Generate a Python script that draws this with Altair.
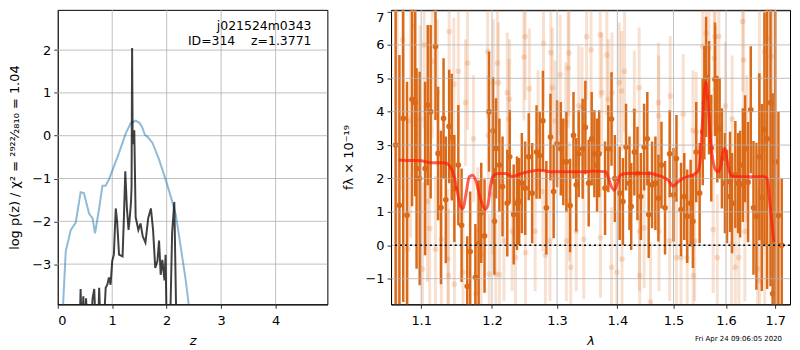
import altair as alt
import pandas as pd

# ---------------- left panel: redshift PDF ----------------
chi_z = [0.08, 0.10, 0.147, 0.24, 0.33, 0.42, 0.48, 0.575, 0.64, 0.685, 0.76, 0.82, 0.88,
         0.94, 1.03, 1.125, 1.25, 1.34, 1.43, 1.50, 1.55, 1.60, 1.645, 1.74, 1.86, 1.98,
         2.07, 2.17, 2.26, 2.35, 2.40, 2.45]
chi_val = [-4.6, -3.9, -2.7, -2.2, -2.03, -1.32, -1.34, -1.82, -1.93, -2.28, -1.7, -1.17, -1.17,
           -1.02, -0.72, -0.4, 0.06, 0.29, 0.35, 0.3, 0.2, 0.02, -0.02, -0.17, -0.56, -1.02,
           -1.4, -1.86, -2.62, -3.38, -3.9, -4.6]

pz_z = [0.40, 0.42, 0.44, 0.47, 0.49, 0.52, 0.55, 0.60, 0.64, 0.67, 0.70, 0.74, 0.76, 0.79,
        0.84, 0.88, 0.91, 0.94, 0.97, 1.00, 1.03, 1.065, 1.09, 1.125, 1.19, 1.215, 1.24,
        1.27, 1.30, 1.32, 1.345, 1.355, 1.365, 1.375, 1.38, 1.405, 1.43, 1.48, 1.52, 1.56,
        1.61, 1.66, 1.71, 1.75, 1.79, 1.83, 1.86, 1.89, 1.92, 1.96, 1.98, 2.00, 2.06, 2.10,
        2.14, 2.18, 2.22]
pz_logp = [-4.6, -3.58, -4.6, -3.75, -4.6, -3.8, -4.6, -4.6, -3.8, -3.58, -4.6, -4.6, -3.55, -4.6,
           -4.6, -3.55, -3.48, -3.31, -3.48, -2.93, -2.78, -1.7, -2.0, -2.78, -2.82, -1.9, -0.83,
           -1.7, -2.2, -1.95, -1.55, -1.2, 2.05, -0.02, -0.2, 0.13, -1.9, -2.2, -2.05, -2.35,
           -2.5, -1.93, -1.7, -2.2, -3.09, -2.93, -2.45, -3.25, -2.9, -3.38, -2.78, -4.6, -4.6, -2.26,
           -1.55, -4.6, -4.6]

pz_label1 = "j021524m0343"
pz_label2 = "ID=314\u00a0\u00a0\u00a0\u00a0z=1.3771"

# ---------------- right panel: spectrum ----------------
dark_wave = [1.066, 1.071, 1.076, 1.081, 1.0877, 1.092, 1.0938, 1.098, 1.1053, 1.1089, 1.1129,
             1.1195, 1.1231, 1.1271, 1.1307, 1.1338, 1.1385, 1.1421, 1.1458, 1.1514, 1.156,
             1.1641, 1.1683, 1.1758, 1.1805, 1.1843, 1.1891, 1.1957, 1.2015, 1.2036, 1.206,
             1.211, 1.2157, 1.2228, 1.2265, 1.2325, 1.2375, 1.2408, 1.2449, 1.25, 1.2555,
             1.2608, 1.2676, 1.2725, 1.2776, 1.283, 1.2895, 1.2945, 1.300, 1.306, 1.310, 1.315,
             1.321, 1.3265, 1.331, 1.335, 1.3415, 1.346, 1.3515, 1.3565, 1.361, 1.3655, 1.369,
             1.379, 1.3845, 1.390, 1.3957, 1.404, 1.4096, 1.415, 1.421, 1.424, 1.4295, 1.435,
             1.441, 1.4468, 1.4525, 1.455, 1.461, 1.467, 1.4725, 1.478, 1.4845, 1.493, 1.500,
             1.5055, 1.514, 1.520, 1.5255, 1.532, 1.5363, 1.5425, 1.549, 1.555, 1.558, 1.5613,
             1.567, 1.5713, 1.5785, 1.583, 1.5875, 1.592, 1.598, 1.602, 1.608, 1.612, 1.6185,
             1.624, 1.628, 1.6335, 1.638, 1.644, 1.6495, 1.655, 1.661, 1.667, 1.672, 1.6775,
             1.683, 1.690, 1.6945, 1.700, 1.7065, 1.7135]
dark_flux = [3.0, 1.2, 3.8, 0.9, 4.37, 4.27, 2.3, 2.0, 2.3, 4.2, 4.0,
             5.95, 2.75, 1.13, 3.8, 1.36, 3.56, 3.24, 1.7, 2.4, 0.6,
             -1.23, -0.19, -0.96, 0.05, 0.97, 0.28, 4.0, 3.43, 0.72, 2.9,
             2.4, 1.76, 1.26, 2.65, 0.92, 1.26, 1.31, 1.86, 1.71, 2.65,
             1.56, 2.79, 2.69, 3.73, 1.12, 3.24, 1.61, 3.04, 2.89, 2.5, 2.5,
             1.19, 3.29, 1.81, 2.74, 2.89, 3.53, 1.86, 3.19, 2.74, 2.4, 2.74,
             1.71, 2.89, 3.78, 2.0, 1.56, 1.31, 2.94, 1.86, 1.16, 2.79, 2.15,
             1.46, 2.94, 3.19, 0.92, 1.81, 1.86, 1.41, 2.4, 1.12, 2.74, 1.51,
             2.6, 1.07, 1.46, 0.87, 1.26, 0.72, 2.79, 1.56, 3.4, 4.27, 5.04,
             4.42, 2.91, 4.97, 3.48, 3.5, 2.6, 1.86, 1.46, 1.9, 1.26, 2.12,
             1.86, 1.83, 2.4, 2.89, 1.89, 4.06, 1.12, 0.87, 2.65, 1.43, 3.47,
             3.19, 4.27, -1.45, 2.5, 0.89, 0.0]
dark_err = [5.0, 4.5, 5.5, 4.0, 3.2, 2.8, 3.0, 3.2, 2.6, 2.4, 2.6,
            2.2, 2.0, 2.3, 1.8, 1.9, 1.7, 1.9, 1.6, 1.8, 1.7,
            1.5, 1.8, 1.6, 1.9, 1.5, 1.7, 1.8, 1.6, 1.6, 1.5,
            1.4, 1.5, 1.6, 1.4, 1.5, 1.4, 1.3, 1.5, 1.4, 1.3,
            1.5, 1.4, 1.3, 1.5, 1.4, 1.3, 1.4, 1.3, 1.4, 1.3, 1.5,
            1.4, 1.3, 1.4, 1.3, 1.5, 1.4, 1.3, 1.4, 1.3, 1.4, 1.3,
            1.4, 1.3, 1.4, 1.3, 1.4, 1.3, 1.3, 1.4, 1.3, 1.3, 1.4,
            1.3, 1.3, 1.4, 1.3, 1.3, 1.4, 1.3, 1.3, 1.4, 1.3, 1.4,
            1.3, 1.4, 1.3, 1.4, 1.3, 1.4, 1.5, 1.5, 1.6, 1.7, 1.8,
            1.7, 1.6, 1.7, 1.6, 1.5, 1.5, 1.5, 1.4, 1.5, 1.5, 1.6,
            1.5, 1.6, 1.7, 1.6, 1.8, 1.9, 2.0, 2.2, 2.5, 2.8, 3.5,
            4.5, 5.5, 6.0, 6.5, 3.1, 2.0]

light_wave = [1.068, 1.075, 1.082, 1.0855, 1.0895, 1.0987, 1.1018, 1.104, 1.1085, 1.1116,
              1.115, 1.1195, 1.122, 1.1276, 1.1366, 1.1376, 1.1385, 1.145, 1.1458, 1.1514,
              1.158, 1.1616, 1.1645, 1.173, 1.1763, 1.1794, 1.184, 1.1937, 1.1945, 1.196,
              1.2012, 1.202, 1.2056, 1.2081, 1.2096, 1.211, 1.2178, 1.2228, 1.2253, 1.2262,
              1.2302, 1.2352, 1.248, 1.25, 1.2505, 1.2565, 1.2655, 1.27, 1.2775, 1.2785,
              1.2815, 1.2887, 1.29, 1.2925, 1.297, 1.305, 1.314, 1.315, 1.318, 1.319,
              1.3195, 1.322, 1.331, 1.335, 1.3405, 1.3434, 1.348, 1.3555, 1.3707, 1.3712,
              1.3735, 1.382, 1.3845, 1.39, 1.3907, 1.399, 1.4033, 1.4075, 1.408, 1.4124,
              1.4295, 1.438, 1.4385, 1.439, 1.4468, 1.4582, 1.4725, 1.473, 1.4735, 1.493,
              1.494, 1.5055, 1.514, 1.518, 1.5255, 1.5363, 1.537, 1.5395, 1.5425, 1.5549,
              1.5615, 1.567, 1.575, 1.577, 1.5785, 1.5795, 1.583, 1.586, 1.599, 1.611,
              1.612, 1.6185, 1.6255, 1.633, 1.635, 1.6375, 1.6415, 1.6635, 1.667, 1.6675,
              1.6775, 1.678, 1.683, 1.6913, 1.695]
light_flux = [2.0, 6.15, -0.12, 3.73, 6.55, 3.78, -0.71, 6.0, 1.31, 0.5,
              5.5, -0.12, 4.57, 0.18, -0.41, -0.91, 6.4, 4.82, -1.17, 5.21,
              -0.81, 4.27, 5.46, 3.19, -1.45, 0.44, -0.27, 5.8, 3.29, -0.86,
              1.51, 4.87, -0.86, 5.46, 4.87, -0.88, 0.13, 4.57, 3.78, 4.37,
              0.42, -0.37, 5.64, 6.25, -0.22, 4.69, 0.42, 3.44, 1.61, 6.05,
              -0.29, 0.13, 5.77, 4.72, 3.73, 5.11, 3.68, 0.13, 5.31, 5.76,
              1.31, -0.66, 0.42, 4.18, 4.13, 0.18, 6.25, 5.85, 6.3, 0.23,
              4.57, 5.7, 4.37, -0.66, 4.57, -0.81, 4.87, 4.62, -0.41, 5.21,
              4.03, 4.72, 0.42, -0.91, 0.52, -1.7, 4.27, 3.88, 0.42, 0.13,
              4.47, -0.37, -0.37, 3.93, -0.37, 3.44, -0.91, 0.13, 3.39, 5.95,
              6.35, 5.9, 0.47, 5.6, 6.25, 4.67, -0.37, 6.25, 4.18, 0.03,
              3.78, -0.66, -0.37, 6.7, 5.55, 0.42, 2.89, -0.71, 5.01, -1.06,
              5.8, 0.13, 6.2, 5.66, 3.0]
light_err = [5.0, 4.5, 4.0, 3.5, 3.0, 2.8, 2.6, 2.5, 2.4, 2.3,
             2.3, 2.2, 2.2, 2.1, 2.1, 2.0, 2.2, 2.0, 2.0, 2.0,
             2.0, 1.9, 2.0, 1.9, 1.9, 1.9, 1.8, 2.0, 1.8, 1.8,
             1.8, 1.9, 1.8, 1.9, 1.8, 1.8, 1.8, 1.8, 1.8, 1.8,
             1.8, 1.8, 1.9, 1.9, 1.8, 1.8, 1.8, 1.8, 1.8, 1.9,
             1.8, 1.8, 1.9, 1.8, 1.8, 1.8, 1.8, 1.8, 1.8, 1.9,
             1.8, 1.8, 1.8, 1.8, 1.8, 1.8, 1.9, 1.9, 1.9, 1.8,
             1.8, 1.8, 1.8, 1.8, 1.8, 1.8, 1.8, 1.8, 1.8, 1.8,
             1.8, 1.8, 1.8, 1.8, 1.8, 1.8, 1.8, 1.8, 1.8, 1.8,
             1.8, 1.8, 1.8, 1.8, 1.8, 1.8, 1.8, 1.8, 1.8, 1.9,
             2.0, 2.0, 1.9, 2.0, 2.0, 1.9, 1.9, 2.0, 1.9, 1.9,
             1.9, 2.0, 2.0, 2.1, 2.1, 2.1, 2.2, 2.4, 2.6, 2.6,
             3.0, 3.2, 3.8, 4.5, 5.0]

model_wave = [1.07, 1.08, 1.09, 1.10, 1.11, 1.12, 1.13, 1.135, 1.14, 1.145, 1.15, 1.155, 1.158,
              1.162, 1.167, 1.172, 1.177, 1.183, 1.19, 1.194, 1.198, 1.203, 1.21, 1.22, 1.23,
              1.24, 1.25, 1.26, 1.27, 1.28, 1.29, 1.30, 1.32, 1.34, 1.36, 1.38, 1.385, 1.39,
              1.395, 1.40, 1.405, 1.415, 1.44, 1.46, 1.47, 1.48, 1.49, 1.50, 1.505, 1.515,
              1.525, 1.535, 1.545, 1.55, 1.553, 1.557, 1.561, 1.565, 1.57, 1.575, 1.58, 1.585,
              1.59, 1.595, 1.598, 1.602, 1.607, 1.612, 1.62, 1.64, 1.66, 1.675, 1.683, 1.687,
              1.692, 1.697]
model_flux = [2.55, 2.54, 2.54, 2.53, 2.48, 2.47, 2.47, 2.45, 2.35, 2.1, 1.6, 1.15, 1.1,
              1.5, 2.05, 2.1, 1.9, 1.4, 1.08, 1.2, 1.8, 2.1, 2.15, 2.15, 2.06,
              2.12, 2.18, 2.22, 2.25, 2.23, 2.2, 2.2, 2.2, 2.2, 2.22, 2.2, 2.0, 1.75,
              1.65, 1.85, 2.1, 2.15, 2.16, 2.15, 2.1, 2.05, 1.95, 1.77, 1.85, 1.98,
              2.05, 2.1, 2.2, 2.5, 3.3, 4.4, 4.9, 4.3, 3.1, 2.5, 2.25, 2.2,
              2.4, 2.85, 2.9, 2.55, 2.2, 2.07, 2.05, 2.05, 2.05, 2.06, 2.0, 1.5,
              0.8, 0.1]

# tick values (also used for the grid lines)
z_ticks = [0, 1, 2, 3, 4]
logp_ticks = [-3, -2, -1, 0, 1, 2]
wave_ticks = [1.1, 1.2, 1.3, 1.4, 1.5, 1.6, 1.7]
flux_ticks = [-1, 0, 1, 2, 3, 4, 5, 6, 7]

date_label = "Fri Apr 24 09:06:05 2020"

ORANGE = "#da6a18"
FONT = "DejaVu Sans"
GRID = "#b0b0b0"

# ---------------- build tables ----------------
chi_df = pd.DataFrame({"z": chi_z, "v": chi_val})
pz_df = pd.DataFrame({"z": pz_z, "v": pz_logp})
dark_df = pd.DataFrame({"w": dark_wave, "f": dark_flux, "e": dark_err})
dark_df["lo"] = dark_df["f"] - dark_df["e"]
dark_df["hi"] = dark_df["f"] + dark_df["e"]
light_df = pd.DataFrame({"w": light_wave, "f": light_flux, "e": light_err})
light_df["lo"] = light_df["f"] - light_df["e"]
light_df["hi"] = light_df["f"] + light_df["e"]
model_df = pd.DataFrame({"w": model_wave, "f": model_flux})

LW, LH = 271, 296
RW, RH = 401, 296


def ax(values, title, **kw):
    base = dict(
        values=values, title=title, grid=False,
        domainColor="black", domainWidth=1,
        tickColor="black", tickSize=4, tickWidth=0.8,
        labelFont=FONT, labelFontSize=13, labelColor="black", labelPadding=3,
        labelOverlap=False,
        titleFont=FONT, titleFontSize=13, titleColor="black", titleFontWeight="normal",
    )
    base.update(kw)
    return alt.Axis(**base)


# left encodings
z_scale = alt.Scale(domain=[0, 4.95], nice=False, zero=False)
v_scale = alt.Scale(domain=[-3.94, 2.94], nice=False, zero=False)


def xz(field="z:Q"):
    return alt.X(field, scale=z_scale,
                 axis=ax(z_ticks, "z", titleFontStyle="italic", titlePadding=7, labelPadding=6))


def yz(field="v:Q"):
    return alt.Y(field, scale=v_scale,
                 axis=ax(logp_ticks, "log p(z) / χ² = ²⁹²²⁄₂₈₁₀ = 1.04", titlePadding=10))


zgrid = alt.Chart(pd.DataFrame({"z": z_ticks})).mark_rule(color=GRID, strokeWidth=0.8).encode(x=xz())
vgrid = alt.Chart(pd.DataFrame({"v": logp_ticks})).mark_rule(color=GRID, strokeWidth=0.8).encode(y=yz())
chi_line = alt.Chart(chi_df).mark_line(color="#1f77b4", opacity=0.5, strokeWidth=2, clip=True).encode(
    x=xz(), y=yz(), order="z:Q")
pz_line = alt.Chart(pz_df).mark_line(color="black", opacity=0.75, strokeWidth=2, clip=True).encode(
    x=xz(), y=yz(), order="z:Q")
lab1 = alt.Chart(pd.DataFrame({"t": [pz_label1]})).mark_text(
    font=FONT, fontSize=12.5, align="right", baseline="alphabetic", color="black").encode(
    x=alt.value(LW - 16), y=alt.value(20), text="t:N")
lab2 = alt.Chart(pd.DataFrame({"t": [pz_label2]})).mark_text(
    font=FONT, fontSize=12.5, align="right", baseline="alphabetic", color="black").encode(
    x=alt.value(LW - 16), y=alt.value(35), text="t:N")

left = alt.layer(zgrid, vgrid, chi_line, pz_line, lab1, lab2).properties(width=LW, height=LH)

w_scale = alt.Scale(type="log", domain=[1.06, 1.731], nice=False, zero=False)
f_scale = alt.Scale(domain=[-1.77, 7.05], nice=False, zero=False)


def xw(field="w:Q"):
    return alt.X(field, scale=w_scale,
                 axis=ax(wave_ticks, "λ", format=".1f", titleFontStyle="italic",
                         titlePadding=7, labelPadding=6))


def yf(field="f:Q"):
    return alt.Y(field, scale=f_scale,
                 axis=ax(flux_ticks, "fλ × 10⁻¹⁹", titlePadding=10, labelFlush=3))


light_bars = alt.Chart(light_df).mark_rule(color=ORANGE, opacity=0.2, strokeWidth=3, clip=True).encode(
    x=xw(), y=yf("lo:Q"), y2="hi:Q")
light_pts = alt.Chart(light_df).mark_circle(color=ORANGE, opacity=0.2, size=32, clip=True).encode(
    x=xw(), y=yf())
dark_bars = alt.Chart(dark_df).mark_rule(color=ORANGE, opacity=1, strokeWidth=2.5, clip=True).encode(
    x=xw(), y=yf("lo:Q"), y2="hi:Q")
dark_pts = alt.Chart(dark_df).mark_circle(color=ORANGE, opacity=1, size=32, clip=True).encode(
    x=xw(), y=yf())
wgrid = alt.Chart(pd.DataFrame({"w": wave_ticks})).mark_rule(color=GRID, strokeWidth=0.8).encode(x=xw())
fgrid = alt.Chart(pd.DataFrame({"f": flux_ticks})).mark_rule(color=GRID, strokeWidth=0.8).encode(y=yf())
model_line = alt.Chart(model_df).mark_line(color="#ff1a0a", opacity=0.7, strokeWidth=3,
                                           interpolate="monotone", clip=True).encode(
    x=xw(), y=yf(), order="w:Q")
zero_line = alt.Chart(pd.DataFrame({"f": [0.0]})).mark_rule(
    color="black", strokeDash=[2, 3], strokeWidth=1.5).encode(y=yf())
date_txt = alt.Chart(pd.DataFrame({"t": [date_label]})).mark_text(
    font=FONT, fontSize=7, align="right", baseline="middle", color="black").encode(
    x=alt.value(RW - 8), y=alt.value(RH + 35), text="t:N")

right = alt.layer(light_bars, light_pts, dark_bars, dark_pts, wgrid, fgrid, model_line,
                  zero_line, date_txt).properties(width=RW, height=RH)

chart = alt.hconcat(left, right, spacing=13).properties(
    padding=0, background="white"
).configure_view(stroke="black", strokeWidth=1)

chart.save("out.html", embed_options={"renderer": "svg", "actions": False})
